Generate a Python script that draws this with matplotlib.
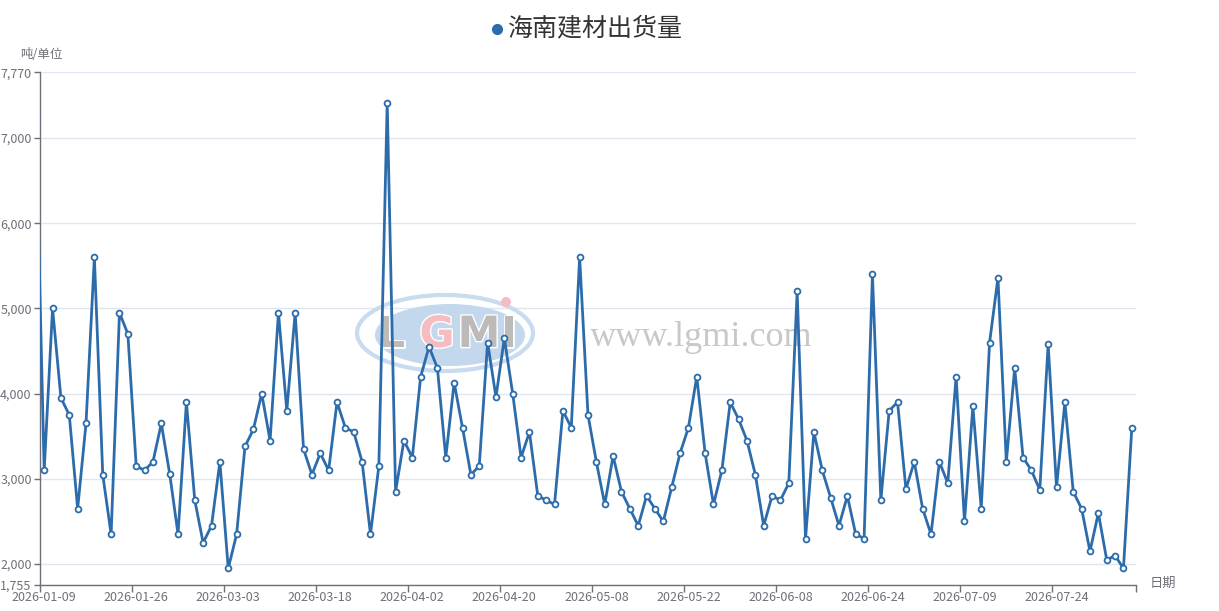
import matplotlib.pyplot as plt
import matplotlib.patheffects as pe
from matplotlib.patches import Ellipse
from matplotlib.ticker import FixedLocator, FuncFormatter

plt.rcParams['font.family'] = ['Noto Sans CJK SC', 'DejaVu Sans']

title = '海南建材出货量'
y_name = '吨/单位'
x_name = '日期'

# 每隔11个交易日标一个日期
label_step = 11
label_dates = ['2026-01-09', '2026-01-26', '2026-03-03', '2026-03-18',
               '2026-04-02', '2026-04-20', '2026-05-08', '2026-05-22',
               '2026-06-08', '2026-06-24', '2026-07-09', '2026-07-24']

# 左边缘被截掉的前一个点
lead_value = 7200

values = [3100, 5000, 3950, 3750, 2650, 3650, 5600, 3050, 2350, 4950,
          4700, 3150, 3100, 3200, 3650, 3060, 2350, 3900, 2750, 2250,
          2450, 3200, 1950, 2350, 3380, 3580, 4000, 3450, 4950, 3800,
          4950, 3350, 3050, 3300, 3100, 3900, 3600, 3550, 3200, 2350,
          3150, 7410, 2850, 3450, 3250, 4200, 4550, 4300, 3250, 4130,
          3600, 3050, 3150, 4600, 3960, 4650, 4000, 3250, 3550, 2800,
          2750, 2700, 3800, 3600, 5600, 3750, 3200, 2700, 3270, 2850,
          2650, 2450, 2800, 2650, 2500, 2900, 3300, 3600, 4200, 3300,
          2700, 3100, 3900, 3700, 3450, 3050, 2450, 2800, 2750, 2950,
          5200, 2300, 3550, 3100, 2780, 2450, 2800, 2350, 2300, 5400,
          2750, 3800, 3900, 2880, 3200, 2650, 2350, 3200, 2950, 4200,
          2500, 3850, 2650, 4600, 5360, 3200, 4300, 3250, 3100, 2870,
          4580, 2900, 3900, 2850, 2650, 2150, 2600, 2050, 2100, 1950,
          3600]

y_min, y_max = 1755, 7770
y_ticks = [1755, 2000, 3000, 4000, 5000, 6000, 7000, 7770]

line_color = '#2d6cab'
axis_color = '#6E7079'

W, H = 1219, 611
fig = plt.figure(figsize=(W / 100, H / 100), dpi=100)
ax = fig.add_axes([40 / W, (H - 585) / H, (1136 - 40) / W, (585 - 72.3) / H])

n = len(values)
xs = [-1] + list(range(n))
ys = [lead_value] + values
ax.plot(xs, ys, color=line_color, lw=2.0, marker='o', ms=4.2,
        mfc='white', mec=line_color, mew=1.3, zorder=3)

ax.set_xlim(-0.5, n - 0.5)
ax.set_ylim(y_min, y_max)

# y轴
ax.yaxis.set_major_locator(FixedLocator(y_ticks))
ax.yaxis.set_major_formatter(FuncFormatter(lambda v, p: f'{int(v):,}'))
ax.yaxis.grid(True, color='#E0E6F1', lw=1)
ax.tick_params(axis='y', length=4, width=1, color=axis_color,
               labelcolor=axis_color, labelsize=9, pad=2)

# x轴: 标签在类目中心, 刻度在类目边界
label_pos = [i * label_step for i in range(len(label_dates))]
ax.xaxis.set_major_locator(FixedLocator(label_pos))
ax.set_xticklabels(label_dates)
ax.xaxis.set_minor_locator(FixedLocator([p - 0.5 for p in label_pos] + [n - 0.5]))
ax.tick_params(axis='x', which='major', length=0, labelcolor=axis_color,
               labelsize=9, pad=4)
ax.tick_params(axis='x', which='minor', length=5, width=1, color=axis_color)

for s in ['top', 'right']:
    ax.spines[s].set_visible(False)
for s in ['left', 'bottom']:
    ax.spines[s].set_color(axis_color)
    ax.spines[s].set_linewidth(1)
ax.set_axisbelow(True)

# 轴名称
fig.text(20 / W, 1 - 55 / H, y_name, fontsize=9, color=axis_color, va='center')
fig.text(1150 / W, 1 - 583 / H, x_name, fontsize=9.5, color=axis_color, va='center')

# 图例标题
fig.text(508 / W, 1 - 28 / H, title, fontsize=18, color='#333333', va='center')
fig.lines.append(plt.Line2D([497 / W], [1 - 29 / H], marker='o', ms=7,
                            color=line_color, transform=fig.transFigure))

# 水印
tf = fig.transFigure
ax.add_patch(Ellipse((445 / W, 1 - 333 / H), 176 / W, 76 / H, transform=tf,
                     facecolor='none', edgecolor='#c9dbee', lw=3, clip_on=False, zorder=1))
ax.add_patch(Ellipse((450 / W, 1 - 335 / H), 150 / W, 62 / H, transform=tf,
                     facecolor='#c3d7ed', edgecolor='none', clip_on=False, zorder=1))
stroke = [pe.withStroke(linewidth=2, foreground='white')]
for ch, x, c in [('L', 391, '#bdbaba'), ('G', 437, '#f5bcc2'),
                 ('M', 479, '#bdbaba'), ('I', 509, '#bdbaba')]:
    ax.text(x / W, 1 - 335 / H, ch, transform=tf, fontsize=31, fontweight='bold',
            color=c, ha='center', va='center', family='DejaVu Sans',
            path_effects=stroke, zorder=2, clip_on=False)
ax.add_patch(Ellipse((506 / W, 1 - 302 / H), 10 / W, 10 / H, transform=tf,
                     facecolor='#f5bcc2', edgecolor='none', clip_on=False, zorder=2))
ax.text(701 / W, 1 - 337 / H, 'www.lgmi.com', transform=tf, fontsize=26,
        color='#c8c8c8', ha='center', va='center', family='Liberation Serif',
        zorder=2, clip_on=False)

fig.savefig('out.png', dpi=100)
